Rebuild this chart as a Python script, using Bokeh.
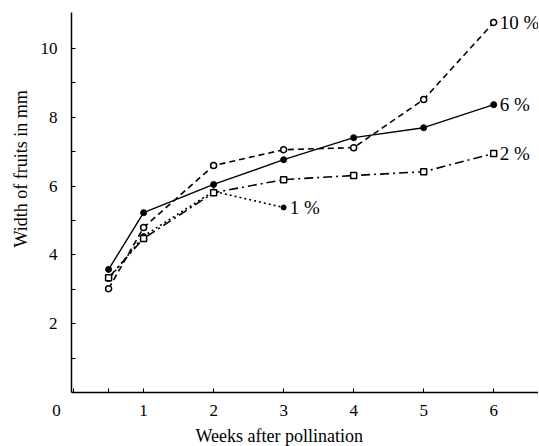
from bokeh.plotting import figure
from bokeh.models import Range1d, FixedTicker, Title
from bokeh.core.properties import value
from bokeh.embed import file_html
from bokeh.resources import INLINE

# Data
weeks = [0.5, 1, 2, 3, 4, 5, 6]
width_10 = [3.02, 4.80, 6.60, 7.06, 7.12, 8.52, 10.76]
width_6 = [3.58, 5.23, 6.05, 6.77, 7.41, 7.70, 8.37]
width_2 = [3.34, 4.48, 5.81, 6.19, 6.31, 6.42, 6.95]
weeks_1 = [0.5, 1, 2, 3]
width_1 = [3.30, 4.55, 5.85, 5.38]
x_ticks = [0, 0.5, 1, 2, 3, 4, 5, 6]
y_ticks = [1, 2, 3, 4, 5, 6, 7, 8, 9, 10]
series_labels = ["10 %", "6 %", "2 %", "1 %"]
x_title = "Weeks after pollination"
y_title = "Width of fruits in mm"

FONT = "Liberation Serif"

p = figure(width=538, height=446, output_backend="svg", toolbar_location=None,
           x_range=Range1d(-0.03, 6.64), y_range=Range1d(0, 11.05),
           min_border_left=71, min_border_right=0, min_border_top=12, min_border_bottom=53)
p.grid.visible = False
p.outline_line_color = None
p.background_fill_color = "white"
p.border_fill_color = "white"

for ax in (p.xaxis[0], p.yaxis[0]):
    ax.axis_line_color = "black"
    ax.axis_line_width = 1.5
    ax.major_tick_in = 4
    ax.major_tick_out = 0
    ax.minor_tick_line_color = None
    ax.major_tick_line_color = "black"
    ax.major_label_text_font = FONT
    ax.major_label_text_font_size = "17px"
    ax.major_label_text_color = "black"

p.xaxis.ticker = FixedTicker(ticks=x_ticks)
# the origin "0" sits left of the origin, as in the reference
p.xaxis.major_label_overrides = {0: "0\u2007\u2007\u2007\u2007", 0.5: ""}
p.xaxis.major_label_standoff = 8

p.yaxis.ticker = FixedTicker(ticks=y_ticks)
p.yaxis.major_label_overrides = {t: "" for t in y_ticks if t % 2}
p.yaxis.major_label_standoff = 14

# axis titles as side titles, placed off-centre like in the reference
p.add_layout(Title(text=x_title, align="left", offset=124, standoff=2,
                   text_font=FONT, text_font_size="18px", text_font_style="normal",
                   text_color="black"), "below")
p.add_layout(Title(text=y_title, align="left", offset=145, standoff=14,
                   text_font=FONT, text_font_size="18px", text_font_style="normal",
                   text_color="black"), "left")

# 10 % : dashed, open circles
p.line(weeks, width_10, line_color="black", line_width=1.6, line_dash="6 4")
p.scatter(weeks, width_10, marker="circle", size=6, fill_color="white",
          line_color="black", line_width=1.5)
# 6 % : solid, filled circles
p.line(weeks, width_6, line_color="black", line_width=1.4)
p.scatter(weeks, width_6, marker="circle", size=6, fill_color="black", line_color="black")
# 1 % : dotted, small dots
p.line(weeks_1, width_1, line_color="black", line_width=1.6, line_dash="2 3")
p.scatter(weeks_1, width_1, marker="circle", size=5, fill_color="black", line_color="black")
# 2 % : dash-dot, open squares
p.line(weeks, width_2, line_color="black", line_width=1.6, line_dash="9 4 2 4")
p.scatter(weeks, width_2, marker="square", size=6, fill_color="white",
          line_color="black", line_width=1.5)

ends_x = [weeks[-1], weeks[-1], weeks[-1], weeks_1[-1]]
ends_y = [width_10[-1], width_6[-1], width_2[-1], width_1[-1]]
p.text(ends_x, ends_y, text=series_labels, x_offset=6, text_baseline="middle",
       text_align="left", text_font=value(FONT), text_font_size="19px", text_color="black")

open("out.html", "w").write(file_html(p, INLINE))
